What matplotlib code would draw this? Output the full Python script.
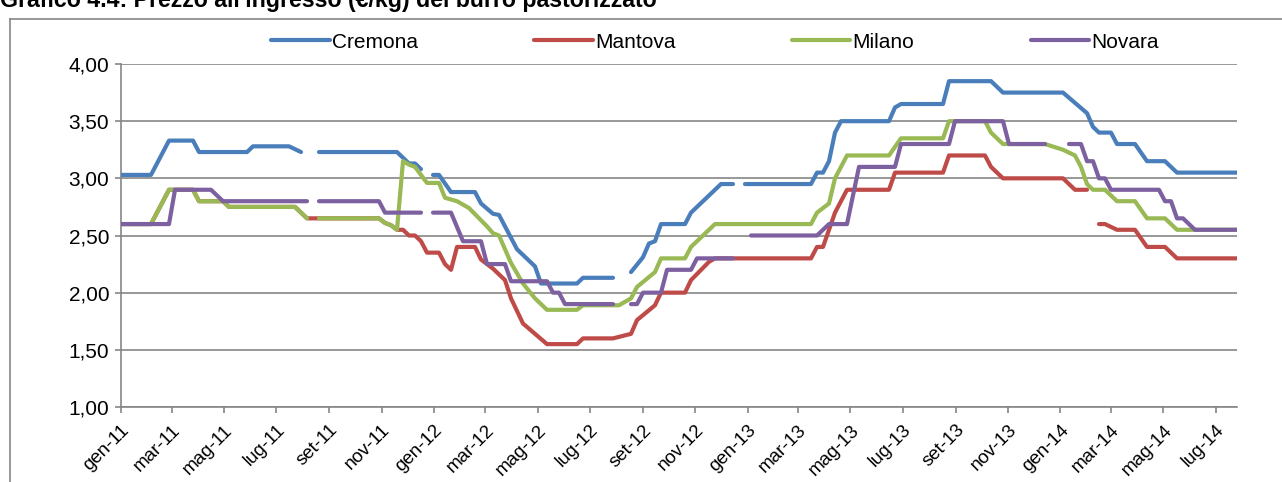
import numpy as np
import pandas as pd
import matplotlib
matplotlib.use("Agg")
from matplotlib import pyplot as plt
from matplotlib.lines import Line2D
from matplotlib.ticker import FuncFormatter
from matplotlib.transforms import ScaledTranslation

# weekly prices (euro/kg), week index counted from the start date; nan = no quotation
start = np.datetime64("2011-01-01")

cremona_wk = [0, 5, 8, 12, 13, 21, 22, 28, 30, 31, 33, 46, 47, 48, 49, 50, 51, 52, 53, 55,
              59, 60, 62, 63, 66, 69, 70, 76, 77, 82, 83, 85, 87, 88, 89, 90, 94, 95, 100, 102,
              103, 104, 115, 116, 117, 118, 119, 120, 128, 129, 130, 137, 138, 145, 147, 157, 159, 161, 162, 163,
              165, 166, 169, 171, 174, 176, 186]
cremona = [3.03, 3.03, 3.33, 3.33, 3.23, 3.23, 3.28, 3.28, 3.23, np.nan, 3.23, 3.23, 3.18, 3.13, 3.13, 3.08, np.nan, 3.03, 3.03, 2.88,
           2.88, 2.78, 2.69, 2.68, 2.38, 2.23, 2.08, 2.08, 2.13, 2.13, np.nan, 2.18, 2.31, 2.43, 2.45, 2.60, 2.60, 2.70, 2.95, 2.95,
           np.nan, 2.95, 2.95, 3.05, 3.05, 3.15, 3.40, 3.50, 3.50, 3.62, 3.65, 3.65, 3.85, 3.85, 3.75, 3.75, 3.66, 3.57, 3.45, 3.40,
           3.40, 3.30, 3.30, 3.15, 3.15, 3.05, 3.05]

mantova_wk = [0, 5, 8, 12, 13, 17, 18, 29, 30, 31, 32, 43, 44, 45, 46, 47, 48, 49, 50, 51,
              53, 54, 55, 56, 59, 60, 62, 64, 65, 67, 71, 76, 77, 82, 85, 86, 89, 90, 94, 95,
              98, 99, 115, 116, 117, 118, 119, 121, 128, 129, 137, 138, 144, 145, 147, 157, 159, 161, 162, 163,
              164, 166, 169, 171, 174, 176, 186]
mantova = [2.60, 2.60, 2.90, 2.90, 2.80, 2.80, 2.75, 2.75, 2.70, 2.65, 2.65, 2.65, 2.61, 2.59, 2.55, 2.55, 2.50, 2.50, 2.45, 2.35,
           2.35, 2.25, 2.20, 2.40, 2.40, 2.29, 2.21, 2.11, 1.95, 1.73, 1.55, 1.55, 1.60, 1.60, 1.64, 1.76, 1.89, 2.00, 2.00, 2.11,
           2.27, 2.30, 2.30, 2.40, 2.40, 2.55, 2.70, 2.90, 2.90, 3.05, 3.05, 3.20, 3.20, 3.10, 3.00, 3.00, 2.90, 2.90, np.nan, 2.60,
           2.60, 2.55, 2.55, 2.40, 2.40, 2.30, 2.30]

milano_wk = [0, 5, 8, 12, 13, 17, 18, 29, 31, 32, 33, 43, 44, 45, 46, 47, 48, 49, 51, 53,
             54, 56, 57, 58, 61, 62, 63, 65, 67, 69, 71, 76, 77, 83, 85, 86, 89, 90, 94, 95,
             99, 115, 116, 118, 119, 121, 128, 130, 137, 138, 144, 145, 147, 154, 157, 159, 160, 161, 162, 164,
             166, 169, 171, 174, 176, 186]
milano = [2.60, 2.60, 2.90, 2.90, 2.80, 2.80, 2.75, 2.75, 2.65, np.nan, 2.65, 2.65, 2.61, 2.59, 2.55, 3.15, 3.12, 3.10, 2.96, 2.96,
          2.83, 2.80, 2.77, 2.74, 2.58, 2.52, 2.50, 2.26, 2.08, 1.95, 1.85, 1.85, 1.89, 1.89, 1.95, 2.05, 2.18, 2.30, 2.30, 2.40,
          2.60, 2.60, 2.70, 2.78, 3.00, 3.20, 3.20, 3.35, 3.35, 3.50, 3.50, 3.40, 3.30, 3.30, 3.25, 3.20, 3.10, 2.95, 2.90, 2.90,
          2.80, 2.80, 2.65, 2.65, 2.55, 2.55]

novara_wk = [0, 8, 9, 15, 17, 31, 32, 33, 43, 44, 50, 51, 52, 55, 57, 60, 61, 64, 65, 71,
             72, 73, 74, 82, 83, 85, 86, 87, 90, 91, 95, 96, 102, 103, 105, 116, 118, 121, 123, 129,
             130, 138, 139, 147, 148, 154, 155, 158, 160, 161, 162, 163, 164, 165, 173, 174, 175, 176, 177, 179,
             186]
novara = [2.60, 2.60, 2.90, 2.90, 2.80, 2.80, np.nan, 2.80, 2.80, 2.70, 2.70, np.nan, 2.70, 2.70, 2.45, 2.45, 2.25, 2.25, 2.10, 2.10,
          2.00, 2.00, 1.90, 1.90, np.nan, 1.90, 1.90, 2.00, 2.00, 2.20, 2.20, 2.30, 2.30, np.nan, 2.50, 2.50, 2.60, 2.60, 3.10, 3.10,
          3.30, 3.30, 3.50, 3.50, 3.30, 3.30, np.nan, 3.30, 3.30, 3.15, 3.15, 3.00, 3.00, 2.90, 2.90, 2.80, 2.80, 2.65, 2.65, 2.55,
          2.55]

last_week = 186
series_names = ["Cremona", "Mantova", "Milano", "Novara"]
colors = ["#4A7EBB", "#BE4B48", "#98B954", "#7D60A0"]

tick_labels = ["gen-11", "mar-11", "mag-11", "lug-11", "set-11", "nov-11",
               "gen-12", "mar-12", "mag-12", "lug-12", "set-12", "nov-12",
               "gen-13", "mar-13", "mag-13", "lug-13", "set-13", "nov-13",
               "gen-14", "mar-14", "mag-14", "lug-14"]
title = "Grafico 4.4: Prezzo all'ingresso (€/kg) del burro pastorizzato"

plt.rcParams["font.family"] = ["Liberation Sans", "DejaVu Sans"]
FS = 15
GRAY = "#868686"


def week_dates(wk):
    return start + np.array(wk) * np.timedelta64(7, "D")


W, H = 1282, 482
fig = plt.figure(figsize=(W / 100, H / 100), dpi=100)
ax = fig.add_axes([121 / W, 1 - 407 / H, (1237 - 121) / W, (407 - 64) / H])

all_wk = [cremona_wk, mantova_wk, milano_wk, novara_wk]
all_val = [cremona, mantova, milano, novara]
for wk, val, name, c in zip(all_wk, all_val, series_names, colors):
    ax.plot(week_dates(wk), val, color=c, lw=3.0, label=name,
            solid_capstyle="round", solid_joinstyle="round", zorder=3)

ax.set_ylim(1.0, 4.0)
ax.set_yticks(np.arange(1.0, 4.01, 0.5))
ax.yaxis.set_major_formatter(FuncFormatter(lambda v, p: f"{v:.2f}".replace(".", ",")))
ax.grid(axis="y", color=GRAY, lw=1.2)
ax.set_axisbelow(True)

ax.set_xlim(start, week_dates([last_week])[0])
tick_dates = pd.date_range("2011-01-01", "2014-07-01", freq="2MS")
ax.set_xticks(tick_dates)
ax.set_xticklabels(tick_labels, rotation=45, ha="right", rotation_mode="anchor")
shift = ScaledTranslation(4 / 100, 0, fig.dpi_scale_trans)
for lab in ax.get_xticklabels():
    lab.set_transform(lab.get_transform() + shift)

for s in ["top", "right"]:
    ax.spines[s].set_visible(False)
for s in ["left", "bottom"]:
    ax.spines[s].set_color(GRAY)
    ax.spines[s].set_linewidth(1.2)
ax.tick_params(axis="both", colors=GRAY, length=4.5, width=1.2, labelsize=FS,
               labelcolor="black")
ax.tick_params(axis="x", pad=6, labelsize=13.5)
ax.tick_params(axis="y", pad=4)

fig.legend(loc="center", bbox_to_anchor=(715 / W, 1 - 42 / H), ncol=4, frameon=False,
           fontsize=FS, handlelength=2.8, handletextpad=0.1, columnspacing=5.6)

# chart frame (top and left edges)
fig.add_artist(Line2D([10 / W, 1], [1 - 19 / H] * 2, color=GRAY, lw=1.2))
fig.add_artist(Line2D([10 / W] * 2, [0, 1 - 19 / H], color=GRAY, lw=1.2))

fig.text(0, 1 - 7 / H, title, fontsize=16.7, fontweight="bold", va="baseline", ha="left")

fig.savefig("out.png", dpi=100)
